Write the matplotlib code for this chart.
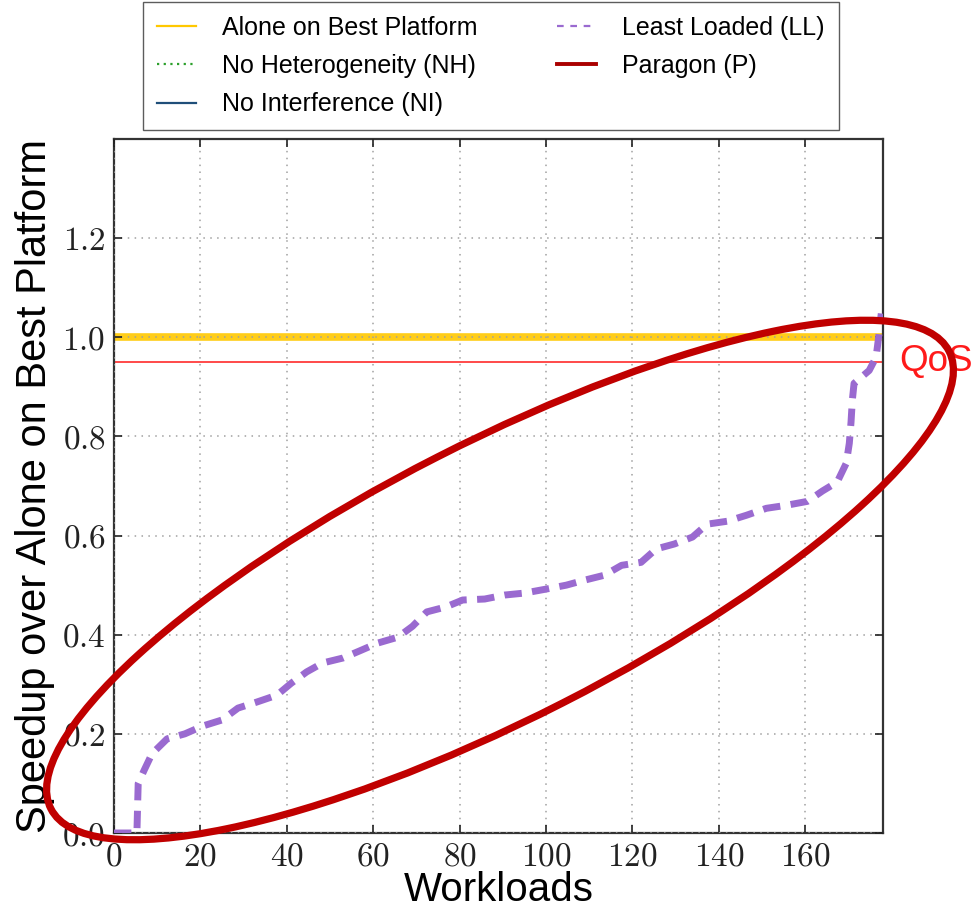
import matplotlib
matplotlib.use("Agg")
import matplotlib.pyplot as plt
from matplotlib.lines import Line2D
from matplotlib.patches import Ellipse

plt.rcParams["mathtext.fontset"] = "cm"
plt.rcParams["font.family"] = ["Liberation Sans", "DejaVu Sans"]

# Least Loaded scheduler: speedup per workload (sorted)
ll_workload = [0, 5.3, 5.6, 7, 8.8, 12.3, 16.4, 20.6, 25, 28.7, 33, 37.7, 41, 44.6,
               48.3, 53, 57.3, 61, 65.7, 69.1, 72.4, 76.8, 80.7, 85.8, 90.4, 95,
               100, 104.7, 108.9, 113.5, 117.5, 122, 125.5, 129.7, 133.9, 137.3,
               142, 146.4, 151, 155.6, 160.5, 164, 167.4, 169.5, 170.2, 170.6,
               170.9, 171.3, 174.8, 176.4, 176.9, 177.6]
ll_speedup = [0.0, 0.0, 0.10, 0.127, 0.16, 0.19, 0.20, 0.216, 0.228, 0.252, 0.264,
              0.278, 0.302, 0.325, 0.343, 0.353, 0.369, 0.383, 0.395, 0.417, 0.446,
              0.456, 0.47, 0.472, 0.48, 0.484, 0.492, 0.50, 0.51, 0.52, 0.54, 0.546,
              0.573, 0.583, 0.597, 0.623, 0.629, 0.641, 0.655, 0.661, 0.669, 0.69,
              0.708, 0.746, 0.786, 0.829, 0.873, 0.907, 0.933, 0.96, 0.994, 1.048]

n_workloads = 178
alone_level = 1.0
qos_level = 0.95

x_ticks = [0, 20, 40, 60, 80, 100, 120, 140, 160]
x_ticklabels = ["0", "20", "40", "60", "80", "100", "120", "140", "160"]
y_ticks = [0.0, 0.2, 0.4, 0.6, 0.8, 1.0, 1.2]
y_ticklabels = ["0.0", "0.2", "0.4", "0.6", "0.8", "1.0", "1.2"]

legend_labels = ["Alone on Best Platform", "No Heterogeneity (NH)",
                 "No Interference (NI)", "Least Loaded (LL)", "Paragon (P)"]

c_alone = "#ffc800"
c_nh = "#2ca02c"
c_ni = "#1f4e79"
c_ll = "#9a6ad0"
c_p = "#aa0000"
c_qos = "#ff3b3b"
c_ring = "#c00000"

W, H, DPI = 973, 908, 100
fig = plt.figure(figsize=(W / DPI, H / DPI), dpi=DPI)
ax = fig.add_axes([114 / W, 1 - 833 / H, (883 - 114) / W, (833 - 139) / H])

ax.axhline(alone_level, color=c_alone, lw=5.5, alpha=0.9, zorder=2)
ax.axhline(qos_level, color=c_qos, lw=1.3, zorder=2)
ax.plot(ll_workload, ll_speedup, color=c_ll, lw=5, linestyle=(0, (2.5, 1.5)),
        dash_capstyle="butt", zorder=3)

ax.set_xlim(0, n_workloads)
ax.set_ylim(0, 1.4)
ax.set_xticks(x_ticks)
ax.set_xticklabels([f"${t}$" for t in x_ticklabels], fontsize=24)
ax.set_yticks(y_ticks)
ax.set_yticklabels([f"${t}$" for t in y_ticklabels], fontsize=24)
ax.tick_params(direction="in", top=True, right=True, length=6, width=1.2,
               colors="#222222", pad=6)
for sp in ax.spines.values():
    sp.set_linewidth(1.6)
    sp.set_color("#333333")
ax.set_axisbelow(False)
ax.grid(True, linestyle=(0, (1, 3.5)), color="#a0a0a0", lw=1.1, zorder=4)

ax.set_xlabel("Workloads", fontsize=29, labelpad=-1)
ax.set_ylabel("Speedup over Alone on Best Platform", fontsize=30, labelpad=5)

# QoS label beside the threshold line
fig.text(899 / W, 1 - 362 / H, "QoS", color="#ff1a1a", fontsize=26.5,
         ha="left", va="center")

# Highlight ring around the Least Loaded curve
ring = Ellipse((5.00, 3.28), 10.08, 2.76, angle=27.0, fill=False,
               edgecolor=c_ring, lw=5.2, transform=fig.dpi_scale_trans,
               clip_on=False, zorder=5)
fig.add_artist(ring)

handles = [
    Line2D([], [], color=c_alone, lw=1.6),
    Line2D([], [], color=c_nh, lw=1.6, linestyle=(0, (1, 2))),
    Line2D([], [], color=c_ni, lw=1.6),
    Line2D([], [], color=c_ll, lw=1.6, linestyle=(0, (3, 3))),
    Line2D([], [], color=c_p, lw=2.8),
]
leg = fig.legend(handles, legend_labels, loc="upper left",
                 bbox_to_anchor=(143 / W, 1 - 2 / H), ncol=2, fontsize=18,
                 frameon=True, fancybox=False, edgecolor="#333333",
                 handlelength=1.55, handletextpad=1.05, columnspacing=3.2,
                 labelspacing=0.57, borderpad=0.55, borderaxespad=0)
leg.get_frame().set_linewidth(1.0)

fig.savefig("out.png", dpi=DPI)
